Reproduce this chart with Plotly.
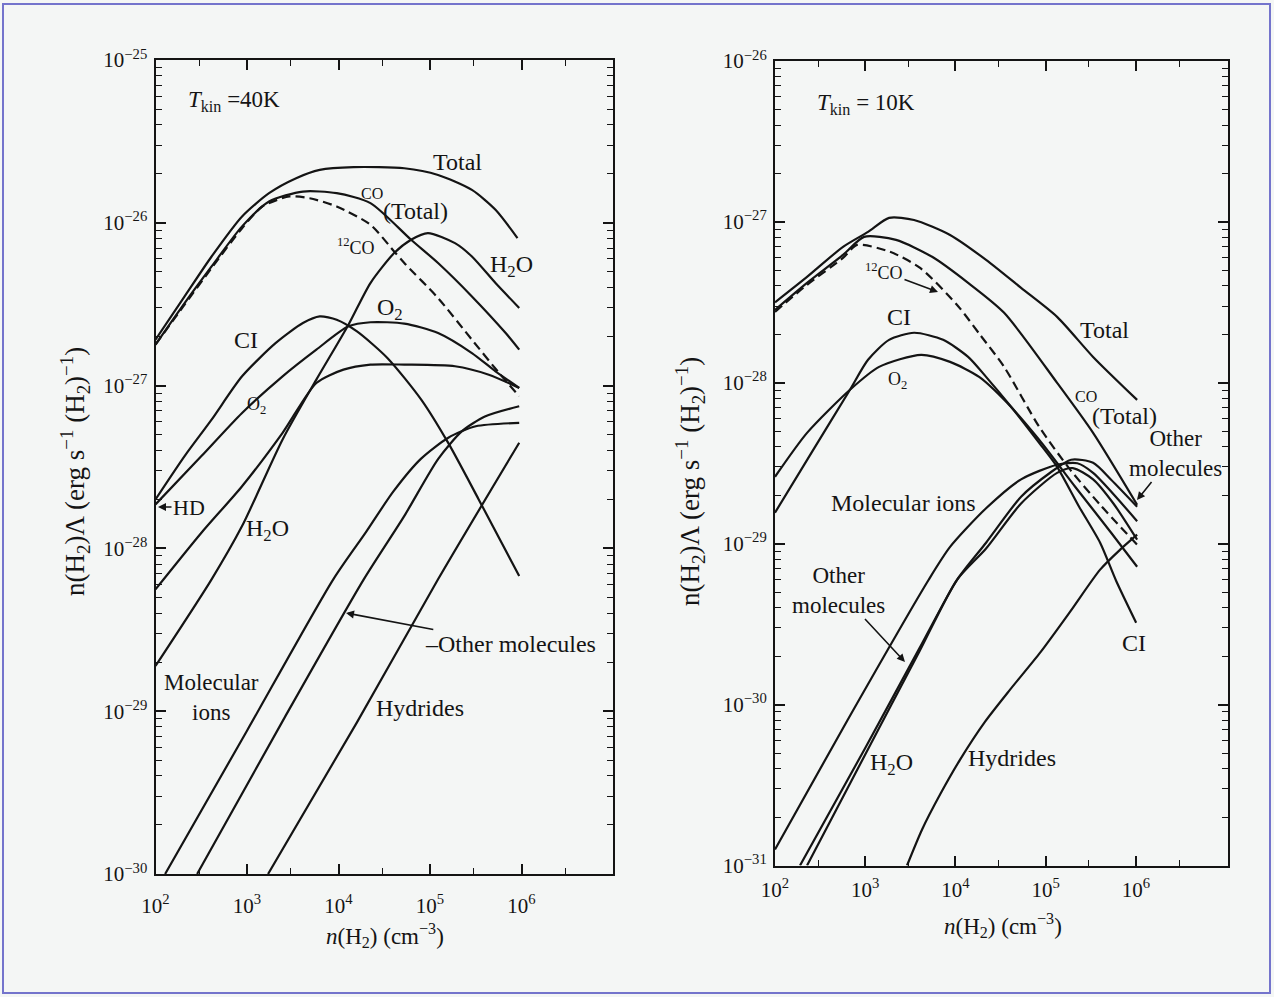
import numpy as np
import plotly.graph_objects as go

W, H = 1274, 997
SERIF = "Liberation Serif, Times New Roman, serif"
INK = "#141414"
BG = "#f4f6f5"

# ---------------- data: log10 n(H2) [cm^-3]  and  log10 n(H2)Lambda ----------------
# Left panel, T_kin = 40 K
L_total_x = [2.0, 2.318, 2.613, 2.946, 3.241, 3.537, 3.795, 4.165, 4.719, 5.088, 5.458, 5.716, 5.956]
L_total_y = [-26.718, -26.452, -26.207, -25.961, -25.818, -25.726, -25.675, -25.658, -25.665, -25.706, -25.798, -25.920, -26.094]
L_cotot_x = [2.0, 2.318, 2.613, 2.946, 3.241, 3.611, 3.98, 4.349, 4.793, 5.088, 5.458, 5.827, 5.975]
L_cotot_y = [-26.748, -26.493, -26.268, -26.022, -25.869, -25.808, -25.818, -25.879, -26.104, -26.247, -26.452, -26.677, -26.779]
L_12co_x = [2.0, 2.318, 2.613, 2.946, 3.167, 3.463, 3.684, 3.980, 4.349, 4.608, 4.719, 5.088, 5.458, 5.754, 5.975]
L_12co_y = [-26.748, -26.503, -26.278, -26.033, -25.900, -25.838, -25.849, -25.900, -26.012, -26.176, -26.247, -26.462, -26.718, -26.922, -27.065]
L_h2o_x = [2.0, 2.613, 2.946, 3.389, 3.758, 4.109, 4.349, 4.608, 4.793, 4.977, 5.273, 5.458, 5.716, 5.975]
L_h2o_y = [-28.722, -28.19, -27.863, -27.331, -26.963, -26.626, -26.370, -26.186, -26.104, -26.063, -26.125, -26.207, -26.370, -26.523]
L_ci_x = [2.0, 2.318, 2.613, 2.946, 3.315, 3.611, 3.795, 3.980, 4.202, 4.534, 4.904, 5.199, 5.532, 5.975]
L_ci_y = [-27.699, -27.433, -27.209, -26.943, -26.738, -26.616, -26.575, -26.595, -26.667, -26.830, -27.086, -27.352, -27.699, -28.170]
L_o2_x = [2.0, 2.502, 2.946, 3.389, 3.758, 4.109, 4.349, 4.719, 5.088, 5.458, 5.716, 5.975]
L_o2_y = [-27.73, -27.433, -27.168, -26.943, -26.779, -26.636, -26.611, -26.619, -26.677, -26.800, -26.912, -27.014]
L_flat_x = [2.0, 2.502, 2.946, 3.389, 3.758, 4.054, 4.349, 4.719, 5.273, 5.643, 5.975]
L_flat_y = [-28.252, -27.904, -27.618, -27.290, -26.984, -26.902, -26.871, -26.871, -26.881, -26.933, -27.014]
L_ions_x = [2.105, 3.0, 3.943, 4.3, 4.6, 4.9, 5.2, 5.5, 5.975]
L_ions_y = [-30.0, -29.12, -28.19, -27.9, -27.65, -27.45, -27.32, -27.25, -27.229]
L_other_x = [2.455, 3.4, 4.276, 4.72, 5.09, 5.35, 5.6, 5.975]
L_other_y = [-30.0, -29.05, -28.19, -27.80, -27.45, -27.28, -27.19, -27.127]
L_hyd_x = [3.23, 4.2, 5.088, 5.975]
L_hyd_y = [-30.0, -29.07, -28.19, -27.351]

# Right panel, T_kin = 10 K
R_total_x = [2.0, 2.355, 2.754, 3.031, 3.264, 3.541, 3.940, 4.339, 4.727, 5.126, 5.525, 6.013]
R_total_y = [-27.50, -27.342, -27.155, -27.062, -26.975, -26.988, -27.081, -27.236, -27.410, -27.590, -27.839, -28.106]
R_cotot_x = [2.0, 2.355, 2.754, 2.987, 3.341, 3.741, 4.140, 4.539, 5.126, 5.525, 6.013]
R_cotot_y = [-27.547, -27.379, -27.205, -27.093, -27.112, -27.217, -27.379, -27.565, -28.0, -28.311, -28.758]
R_12co_x = [2.0, 2.355, 2.754, 2.909, 3.275, 3.608, 4.018, 4.273, 4.539, 4.927, 5.271, 5.603, 6.013]
R_12co_y = [-27.559, -27.391, -27.224, -27.143, -27.186, -27.286, -27.516, -27.702, -27.901, -28.273, -28.540, -28.758, -29.006]
R_ci_x = [2.0, 2.41, 2.831, 3.031, 3.264, 3.541, 3.863, 4.140, 4.339, 4.616, 4.927, 5.126, 5.370, 5.603, 5.780, 6.002]
R_ci_y = [-28.807, -28.429, -28.043, -27.857, -27.733, -27.689, -27.733, -27.839, -27.963, -28.149, -28.373, -28.522, -28.770, -28.994, -29.230, -29.491]
R_o2_x = [2.0, 2.355, 2.831, 3.153, 3.619, 3.940, 4.262, 4.572, 4.927, 5.326, 5.725, 6.013]
R_o2_y = [-28.584, -28.311, -28.043, -27.901, -27.826, -27.870, -27.963, -28.124, -28.354, -28.646, -28.932, -29.143]
R_ions_x = [2.0, 2.8, 3.703, 3.94, 4.339, 4.727, 5.126, 5.35, 5.525, 6.013]
R_ions_y = [-30.9, -30.10, -29.224, -29.02, -28.78, -28.60, -28.509, -28.50, -28.56, -28.86]
R_other_x = [2.277, 3.0, 3.6, 4.018, 4.339, 4.727, 5.049, 5.282, 5.525, 5.725, 6.013]
R_other_y = [-31.0, -30.27, -29.65, -29.224, -28.994, -28.708, -28.559, -28.478, -28.497, -28.602, -28.770]
R_h2o_x = [2.355, 3.0, 3.6, 4.018, 4.339, 4.727, 5.126, 5.3, 5.525, 5.75, 6.013]
R_h2o_y = [-31.0, -30.31, -29.67, -29.224, -29.03, -28.75, -28.56, -28.53, -28.60, -28.75, -28.975]
R_hyd_x = [3.463, 3.630, 3.829, 4.051, 4.328, 4.605, 4.938, 5.271, 5.603, 5.825, 6.013]
R_hyd_y = [-31.0, -30.776, -30.559, -30.342, -30.106, -29.907, -29.677, -29.422, -29.161, -29.037, -28.944]

# tick labels
X_TICKS = [1e2, 1e3, 1e4, 1e5, 1e6]
X_TICKTEXT = ["10<sup>2</sup>", "10<sup>3</sup>", "10<sup>4</sup>", "10<sup>5</sup>", "10<sup>6</sup>"]
X_MINOR = [3e2, 3e3, 3e4, 3e5, 3e6]
YL_TICKS = [1e-25, 1e-26, 1e-27, 1e-28, 1e-29, 1e-30]
YL_TICKTEXT = ["10<sup>\u221225</sup>", "10<sup>\u221226</sup>", "10<sup>\u221227</sup>",
               "10<sup>\u221228</sup>", "10<sup>\u221229</sup>", "10<sup>\u221230</sup>"]
YR_TICKS = [1e-26, 1e-27, 1e-28, 1e-29, 1e-30, 1e-31]
YR_TICKTEXT = ["10<sup>\u221226</sup>", "10<sup>\u221227</sup>", "10<sup>\u221228</sup>",
               "10<sup>\u221229</sup>", "10<sup>\u221230</sup>", "10<sup>\u221231</sup>"]


def lin(a):
    return np.power(10.0, np.asarray(a, dtype=float))


def y_minor(lo, hi):
    vals = []
    for e in range(lo, hi):
        for m in range(2, 10):
            vals.append(m * 10.0 ** e)
    return vals


fig = go.Figure()

left_series = [
    (L_total_x, L_total_y, "solid"), (L_cotot_x, L_cotot_y, "solid"), (L_12co_x, L_12co_y, "9px,5px"),
    (L_h2o_x, L_h2o_y, "solid"), (L_ci_x, L_ci_y, "solid"), (L_o2_x, L_o2_y, "solid"),
    (L_flat_x, L_flat_y, "solid"), (L_ions_x, L_ions_y, "solid"), (L_other_x, L_other_y, "solid"),
    (L_hyd_x, L_hyd_y, "solid"),
]
right_series = [
    (R_total_x, R_total_y, "solid"), (R_cotot_x, R_cotot_y, "solid"), (R_12co_x, R_12co_y, "9px,5px"),
    (R_ci_x, R_ci_y, "solid"), (R_o2_x, R_o2_y, "solid"), (R_ions_x, R_ions_y, "solid"),
    (R_other_x, R_other_y, "solid"), (R_h2o_x, R_h2o_y, "solid"), (R_hyd_x, R_hyd_y, "solid"),
]
for xs, ys, dash in left_series:
    fig.add_trace(go.Scatter(x=lin(xs), y=lin(ys), mode="lines", xaxis="x", yaxis="y",
                             line=dict(color=INK, width=2.2, dash=dash, shape="spline", smoothing=0.7),
                             showlegend=False, hoverinfo="skip"))
for xs, ys, dash in right_series:
    fig.add_trace(go.Scatter(x=lin(xs), y=lin(ys), mode="lines", xaxis="x2", yaxis="y2",
                             line=dict(color=INK, width=2.2, dash=dash, shape="spline", smoothing=0.7),
                             showlegend=False, hoverinfo="skip"))


def P(px, py):
    return px / W, 1 - py / H


def axis_common():
    return dict(type="log", showgrid=False, zeroline=False, showline=True, linecolor=INK, linewidth=2,
                mirror="allticks", ticks="inside", ticklen=10, tickwidth=1.6, tickcolor=INK,
                tickmode="array", tickfont=dict(family=SERIF, size=21, color=INK), automargin=False)


xl = axis_common()
xl.update(domain=[155.5 / W, 613 / W], range=[2, 7.0], anchor="y", tickvals=X_TICKS, ticktext=X_TICKTEXT,
          minor=dict(ticks="inside", ticklen=6, tickwidth=1.3, tickcolor=INK, tickvals=X_MINOR),
          ticklabelstandoff=12)
yl = axis_common()
yl.update(domain=[1 - 874 / H, 1 - 60 / H], range=[-30, -25], anchor="x", tickvals=YL_TICKS, ticktext=YL_TICKTEXT,
          minor=dict(ticks="inside", ticklen=6, tickwidth=1.3, tickcolor=INK, tickvals=y_minor(-30, -25)),
          ticklabelstandoff=2)
xr = axis_common()
xr.update(domain=[775 / W, 1228 / W], range=[2, 7.02], anchor="y2", tickvals=X_TICKS, ticktext=X_TICKTEXT,
          minor=dict(ticks="inside", ticklen=6, tickwidth=1.3, tickcolor=INK, tickvals=X_MINOR),
          ticklabelstandoff=4)
yr = axis_common()
yr.update(domain=[1 - 865.5 / H, 1 - 61 / H], range=[-31, -26], anchor="x2", tickvals=YR_TICKS, ticktext=YR_TICKTEXT,
          minor=dict(ticks="inside", ticklen=6, tickwidth=1.3, tickcolor=INK, tickvals=y_minor(-31, -26)),
          ticklabelstandoff=2)


def label(text, px, py, size=24, angle=0):
    x, y = P(px, py)
    return dict(text=text, x=x, y=y, xref="paper", yref="paper", showarrow=False, textangle=angle,
                font=dict(family=SERIF, size=size, color=INK), xanchor="center", yanchor="middle")


def arrow_label(text, hx, hy, tx, ty, size=24):
    x, y = P(hx, hy)
    return dict(text=text, x=x, y=y, xref="paper", yref="paper", showarrow=True,
                ax=tx - hx, ay=ty - hy, arrowhead=2, arrowsize=1, arrowwidth=1.6, arrowcolor=INK,
                font=dict(family=SERIF, size=size, color=INK), align="center")


YTITLE = "n(H<sub>2</sub>)\u039b (erg s<sup>\u22121</sup> (H<sub>2</sub>)<sup>\u22121</sup>)"
XTITLE = "<i>n</i>(H<sub>2</sub>) (cm<sup>\u22123</sup>)"

annotations = [
    # left panel
    label("<i>T</i><sub>kin</sub> =40K", 234, 101, 23),
    label("Total", 457, 162),
    label("CO", 372, 194, 16),
    label("(Total)", 416, 211),
    label("<sup>12</sup>CO", 356, 246, 18),
    label("H<sub>2</sub>O", 511, 266),
    label("O<sub>2</sub>", 390, 309),
    label("CI", 246, 340),
    label("O<sub>2</sub>", 256, 405, 18),
    arrow_label("HD", 158, 507, 189, 507, 22),
    label("H<sub>2</sub>O", 267, 530),
    label("Molecular<br>ions", 211, 697, 23),
    label("Hydrides", 420, 708),
    arrow_label("\u2013Other molecules", 346, 613, 510, 644),
    label(YTITLE, 75, 472, 27, -90),
    label(XTITLE, 385, 935, 23),
    # right panel
    label("<i>T</i><sub>kin</sub> = 10K", 866, 104, 23),
    arrow_label("<sup>12</sup>CO", 938, 292, 884, 272, 18),
    label("Total", 1104, 330),
    label("CI", 899, 317),
    label("O<sub>2</sub>", 897, 380, 18),
    label("CO", 1086, 397, 16),
    label("(Total)", 1124, 416),
    arrow_label("Other<br>molecules", 1137, 500, 1175, 453, 23),
    label("Molecular ions", 903, 503),
    arrow_label("Other<br>molecules", 905, 662, 838, 590, 23),
    label("H<sub>2</sub>O", 891, 764),
    label("Hydrides", 1012, 758),
    label("CI", 1134, 643),
    label(YTITLE, 690, 482, 27, -90),
    label(XTITLE, 1003, 925, 23),
]

fig.update_layout(
    width=W, height=H, autosize=False,
    margin=dict(l=0, r=0, t=0, b=0, pad=0, autoexpand=False),
    paper_bgcolor=BG, plot_bgcolor=BG,
    xaxis=xl, yaxis=yl, xaxis2=xr, yaxis2=yr,
    annotations=annotations,
    shapes=[dict(type="rect", xref="paper", yref="paper", x0=3 / W, x1=1270 / W, y0=1 - 993 / H, y1=1 - 4 / H,
                 line=dict(color="#7474cc", width=2), fillcolor="rgba(0,0,0,0)", layer="below")],
    showlegend=False,
)

fig.write_html("out.html")
